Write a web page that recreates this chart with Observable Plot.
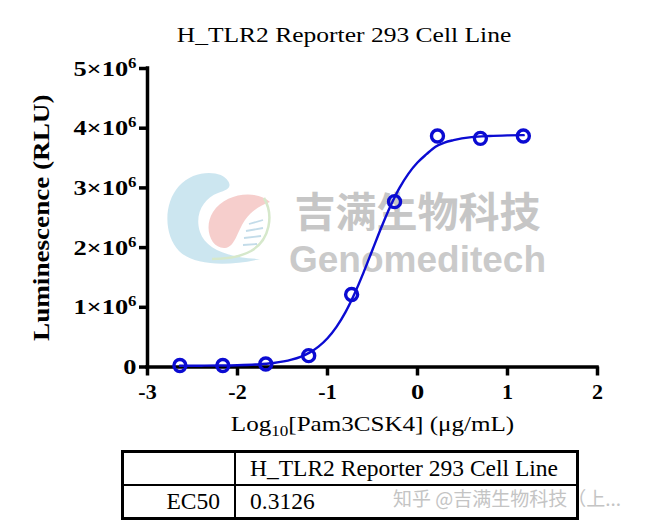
<!DOCTYPE html>
<html>
<head>
<meta charset="utf-8">
<script src="https://cdn.jsdelivr.net/npm/d3@7"></script>
<script src="https://cdn.jsdelivr.net/npm/@observablehq/plot@0.6"></script>
<style>
  body { margin: 0; background: #fff; }
  #wrap { position: relative; width: 666px; height: 530px; overflow: hidden; background: #fff;
          font-family: "Liberation Serif", "Times New Roman", serif; color: #000; }
  #title { position: absolute; left: 0; width: 688px; top: 24px; text-align: center; font-size: 22px; line-height: 1;
           transform: scaleX(1.16); transform-origin: 344px 0; }
  #chart { position: absolute; left: 0; top: 0; }
  #tbl { position: absolute; left: 121px; top: 450px; width: 458px; height: 66px; border-collapse: collapse;
         border: 3px solid #000; font-size: 23.5px; }
  #tbl td { border: 2px solid #000; padding: 0 14px; line-height: 1; height: 31px; white-space: nowrap; }
  #tbl td.c1 { width: 82px; text-align: right; }
  #wm2 { position: absolute; left: 393px; top: 488px; font-family: "Noto Sans CJK SC", sans-serif; font-size: 19px;
         color: #c4c4c4; line-height: 1; white-space: nowrap; }
</style>
</head>
<body>
<div id="wrap">
  <div id="chart"></div>
  <div id="title"></div>
  <table id="tbl"></table>
  <div id="wm2"></div>
</div>
<script>
// ---- data ----
const chartTitle = "H_TLR2 Reporter 293 Cell Line";
const xLabel = "Log10[Pam3CSK4] (μg/mL)";
const yLabel = "Luminescence (RLU)";
const xTicks = [-3, -2, -1, 0, 1, 2];
const yTicks = [0, 1e6, 2e6, 3e6, 4e6, 5e6];
const logConc = [-2.640, -2.163, -1.686, -1.209, -0.732, -0.255, 0.222, 0.699, 1.176];
const lumin   = [25000, 25000, 50000, 190000, 1215000, 2770000, 3870000, 3830000, 3870000];
const fitX = [-2.64, -2.4, -2.2, -2.0, -1.8, -1.6, -1.4, -1.3, -1.2, -1.1, -1.0, -0.9, -0.8, -0.7, -0.6,
              -0.5, -0.4, -0.3, -0.2, -0.1, 0, 0.1, 0.2, 0.3, 0.4, 0.6, 0.8, 1.0, 1.18];
const fitY = [21000, 22000, 24000, 29000, 41000, 66000, 122000, 170000, 241000, 341000, 481000, 672000,
              919000, 1227000, 1581000, 1964000, 2346000, 2698000, 3000000, 3240000, 3425000, 3565000,
              3690000, 3760000, 3800000, 3850000, 3870000, 3880000, 3884000];
const tableHeader = ["", "H_TLR2 Reporter 293 Cell Line"];
const tableRow = ["EC50", "0.3126"];
const watermarkCN = "吉满生物科技";
const watermarkEN = "Genomeditech";
const watermarkCredit = "知乎 @吉满生物科技（上...";

// ---- build ----
const points = logConc.map((x, i) => ({x, y: lumin[i]}));
const fit = fitX.map((x, i) => ({x, y: fitY[i]}));
const blue = "#0b0bd2";
const yTickFormat = d => d === 0 ? "0" : `${d / 1e6}×10^6`;

const plot = Plot.plot({
  width: 666,
  height: 450,
  marginLeft: 147,
  marginRight: 69,
  marginTop: 68,
  marginBottom: 83.5,
  x: {domain: [-3, 2]},
  y: {domain: [0, 5e6]},
  style: {fontFamily: '"Liberation Serif", "Times New Roman", serif', color: "#000", background: "#fff", overflow: "visible"},
  marks: [
    Plot.text([watermarkCN], {frameAnchor: "top-left", dx: 270, dy: 129, fontSize: 41, fontWeight: "bold",
      fontFamily: '"Noto Sans CJK SC", sans-serif', fill: "#c6c6c6", textAnchor: "middle"}),
    Plot.text([watermarkEN], {frameAnchor: "top-left", dx: 270, dy: 177, fontSize: 37, fontWeight: "bold",
      fontFamily: '"Liberation Sans", Arial, sans-serif', fill: "#cacaca", textAnchor: "middle"}),
    Plot.axisX({ticks: xTicks, tickSize: 9, tickPadding: 7, strokeWidth: 3.5, fontSize: 22, fontWeight: "bold",
      tickFormat: d => String(d), label: null}),
    Plot.axisY({ticks: yTicks, tickSize: 8, tickPadding: 3, strokeWidth: 3.5, fontSize: 22, fontWeight: "bold",
      tickFormat: yTickFormat, label: null}),
    Plot.ruleX([-3], {y1: 0, y2: 5e6, strokeWidth: 3.5, strokeLinecap: "square"}),
    Plot.ruleY([0], {x1: -3, x2: 2, strokeWidth: 3.5, strokeLinecap: "square"}),
    Plot.text([yLabel], {frameAnchor: "left", dx: -106, rotate: -90, textAnchor: "middle", fontSize: 24,
      fontWeight: "bold"}),
    Plot.text([xLabel], {frameAnchor: "bottom", dy: 64, fontSize: 22}),
    Plot.line(fit, {x: "x", y: "y", stroke: blue, strokeWidth: 2.4, curve: "monotone-x"}),
    Plot.dot(points, {x: "x", y: "y", r: 6, stroke: blue, strokeWidth: 3.4, fill: "white", fillOpacity: 0})
  ]
});
document.getElementById("chart").appendChild(plot);

// the reference's serif lettering is horizontally wider than Liberation Serif: widen glyphs
function widen(el, k) {
  const L = el.getComputedTextLength();
  if (L > 0) {
    el.setAttribute("textLength", (L * k).toFixed(1));
    el.setAttribute("lengthAdjust", "spacingAndGlyphs");
  }
}

// superscripts / subscripts as real tspans, then widen
const yTickTexts = new Set(yTicks.map(yTickFormat));
d3.select(plot).selectAll("text").each(function () {
  const t = d3.select(this);
  const s = this.textContent;
  if (yTickTexts.has(s)) {
    if (s.includes("^")) {
      const [base, exp] = s.split("^");
      t.text(null);
      t.append("tspan").text(base);
      t.append("tspan").attr("dy", "-8").attr("font-size", "14px").text(exp);
    }
    widen(this, 1.2);
  } else if (s === xLabel) {
    t.text(null);
    t.append("tspan").text("Log");
    t.append("tspan").attr("dy", "5").attr("font-size", "15px").text("10");
    t.append("tspan").attr("dy", "-5").text(s.slice(5));
    widen(this, 1.14);
  } else if (s === yLabel) {
    widen(this, 1.13);
  }
});

// faint company logo next to the watermark
const logo = d3.select(plot).insert("g", ":first-child").attr("aria-label", "logo").attr("opacity", 0.85);
logo.append("path").attr("fill", "#c4e2ee")
  .attr("d", "M228 181 C222 170 194 169 179 186 C163 204 164 235 179 251 C193 265 226 267 260 259 C230 258 206 250 200 232 C194 214 204 198 218 193 C228 190 232 187 228 181 Z");
logo.append("path").attr("fill", "#f5c6c4")
  .attr("d", "M270 202 C257 190 226 192 213 212 C203 228 211 249 225 248 C235 247 237 232 245 220 C252 210 261 205 270 202 Z");
logo.append("path").attr("fill", "none").attr("stroke", "#cfe5c2").attr("stroke-width", 2.5)
  .attr("d", "M264 198 C274 215 270 240 251 251 C240 257 228 259 212 259");
logo.append("path").attr("fill", "none").attr("stroke", "#b9d6e6").attr("stroke-width", 1.8)
  .attr("d", "M249 224 L263 220 M246 231 L263 228 M244 238 L261 236 M243 245 L257 244");

document.getElementById("title").textContent = chartTitle;
const tbl = d3.select("#tbl");
[tableHeader, tableRow].forEach(row => {
  const tr = tbl.append("tr");
  row.forEach((c, j) => tr.append("td").attr("class", j === 0 ? "c1" : "c2").text(c));
});
document.getElementById("wm2").textContent = watermarkCredit;
</script>
</body>
</html>
